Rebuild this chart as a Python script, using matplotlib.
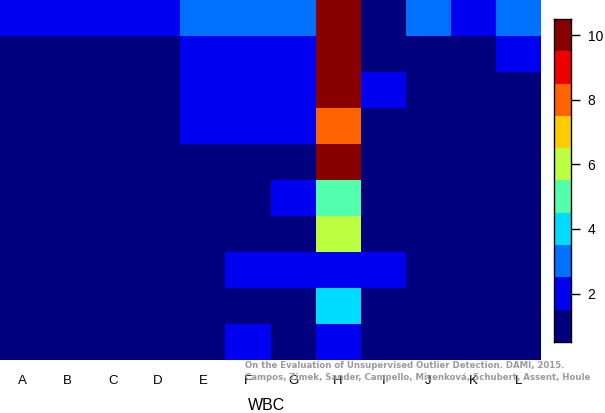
import numpy as np
import matplotlib
matplotlib.use("Agg")
import matplotlib.pyplot as plt
from matplotlib.colors import ListedColormap, BoundaryNorm

columns = ["A", "B", "C", "D", "E", "F", "G", "H", "I", "J", "K", "L"]
# rows listed top to bottom
row0 = [2, 2, 2, 2, 3, 3, 3, 10, 1, 3, 2, 3]
row1 = [1, 1, 1, 1, 2, 2, 2, 10, 1, 1, 1, 2]
row2 = [1, 1, 1, 1, 2, 2, 2, 10, 2, 1, 1, 1]
row3 = [1, 1, 1, 1, 2, 2, 2, 8, 1, 1, 1, 1]
row4 = [1, 1, 1, 1, 1, 1, 1, 10, 1, 1, 1, 1]
row5 = [1, 1, 1, 1, 1, 1, 2, 5, 1, 1, 1, 1]
row6 = [1, 1, 1, 1, 1, 1, 1, 6, 1, 1, 1, 1]
row7 = [1, 1, 1, 1, 1, 2, 2, 2, 2, 1, 1, 1]
row8 = [1, 1, 1, 1, 1, 1, 1, 4, 1, 1, 1, 1]
row9 = [1, 1, 1, 1, 1, 2, 1, 2, 1, 1, 1, 1]
levels = [1, 2, 3, 4, 5, 6, 7, 8, 9, 10]
cbar_ticks = [2, 4, 6, 8, 10]
xlabel = "WBC"
note1 = "On the Evaluation of Unsupervised Outlier Detection. DAMI, 2015."
note2 = "Campos, Zimek, Sander, Campello, Micenková, Schubert, Assent, Houle"

colors = ["#00007F", "#0000F1", "#0070FF", "#00DCFF", "#52FFAA",
          "#BCFF40", "#FFCC00", "#FF6300", "#EE0000", "#880000"]

data = np.array([row0, row1, row2, row3, row4, row5, row6, row7, row8, row9])
cmap = ListedColormap(colors)
bounds = np.arange(levels[0] - 0.5, levels[-1] + 1.0, 1.0)
norm = BoundaryNorm(bounds, cmap.N)

W, H = 605, 413
fig = plt.figure(figsize=(W / 100, H / 100), dpi=100)
ax = fig.add_axes([0, 1 - 360 / H, 541 / W, 360 / H])
ax.pcolormesh(np.arange(len(columns) + 1), np.arange(data.shape[0] + 1), data,
              cmap=cmap, norm=norm)
ax.set_xlim(0, len(columns))
ax.set_ylim(data.shape[0], 0)
ax.set_yticks([])
ax.set_xticks(np.arange(len(columns)) + 0.5)
ax.set_xticklabels(columns, fontsize=9.5, family="Liberation Sans")
ax.tick_params(axis="x", length=0, pad=10.5)
for s in ax.spines.values():
    s.set_visible(False)
fig.text(267 / W, 1 - 405 / H, xlabel, fontsize=11.5, family="Liberation Sans",
         ha="center", va="center")

cax = fig.add_axes([554 / W, (H - 342) / H, 17 / W, 323 / H])
cax.pcolormesh([0, 1], bounds, np.array(levels).reshape(-1, 1), cmap=cmap, norm=norm)
cax.set_xlim(0, 1)
cax.set_ylim(bounds[0], bounds[-1])
cax.set_xticks([])
cax.yaxis.tick_right()
cax.set_yticks(cbar_ticks)
cax.set_yticklabels([str(t) for t in cbar_ticks], fontsize=10, family="Liberation Sans")
cax.tick_params(axis="y", length=6.5, width=1, pad=5.5)
for s in cax.spines.values():
    s.set_linewidth(1.0)

fig.text(245 / W, 1 - 365 / H, note1, fontsize=6.8, fontweight="bold",
         color="#9a9a9a", va="center", ha="left", family="DejaVu Sans",
         fontstretch="condensed")
fig.text(245 / W, 1 - 377 / H, note2, fontsize=6.8, fontweight="bold",
         color="#9a9a9a", va="center", ha="left", family="DejaVu Sans",
         fontstretch="condensed")

fig.savefig("out.png", dpi=100)
